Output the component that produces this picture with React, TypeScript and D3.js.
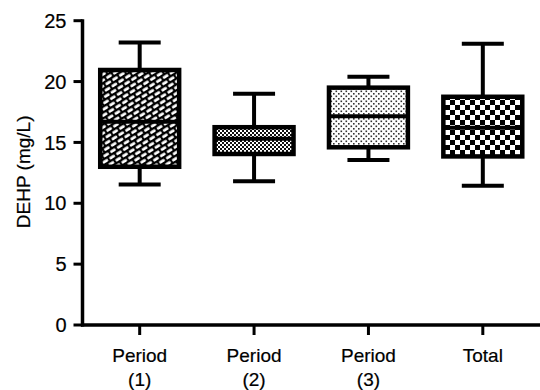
import React, { useEffect, useRef } from "react";
import * as d3 from "d3";

const categories = ["Period\n(1)", "Period\n(2)", "Period\n(3)", "Total"];
const whiskerLow = [11.55, 11.8, 13.55, 11.45];
const q1 = [13.0, 14.05, 14.6, 13.85];
const median = [16.7, 15.3, 17.15, 16.2];
const q3 = [20.95, 16.25, 19.5, 18.75];
const whiskerHigh = [23.2, 19.0, 20.4, 23.1];
const patterns = ["brick", "fineCheck", "dots", "bigCheck"];
const yTicks = [0, 5, 10, 15, 20, 25];

const App = () => {
  const svgRef = useRef<SVGSVGElement>(null);

  useEffect(() => {
    document.body.style.margin = "0";
    const svg = d3.select(svgRef.current);
    svg.selectAll("*").remove();

    const width = 540;
    const left = 82.5;
    const font = "'Liberation Sans', Arial, Helvetica, sans-serif";

    const defs = svg.append("defs");

    // diagonal brick hatch, offset rows
    const brick = defs
      .append("pattern")
      .attr("id", "brick")
      .attr("patternUnits", "userSpaceOnUse")
      .attr("width", 8)
      .attr("height", 10)
      .attr("patternTransform", "rotate(-32)");
    brick.append("rect").attr("width", 8).attr("height", 10).attr("fill", "#000");
    [
      [0.8, 1.2],
      [4.8, 6.2],
      [-3.2, 6.2],
    ].forEach(([bx, by]) => {
      brick
        .append("rect")
        .attr("x", bx)
        .attr("y", by)
        .attr("width", 6.2)
        .attr("height", 2.9)
        .attr("rx", 1.3)
        .attr("fill", "#fff");
    });

    const fine = defs
      .append("pattern")
      .attr("id", "fineCheck")
      .attr("patternUnits", "userSpaceOnUse")
      .attr("width", 4)
      .attr("height", 4);
    fine.append("rect").attr("width", 4).attr("height", 4).attr("fill", "#fff");
    fine.append("rect").attr("width", 2).attr("height", 2).attr("fill", "#111");
    fine.append("rect").attr("x", 2).attr("y", 2).attr("width", 2).attr("height", 2).attr("fill", "#111");

    const dots = defs
      .append("pattern")
      .attr("id", "dots")
      .attr("patternUnits", "userSpaceOnUse")
      .attr("width", 5)
      .attr("height", 5);
    dots.append("rect").attr("width", 5).attr("height", 5).attr("fill", "#fff");
    dots.append("rect").attr("x", 0.5).attr("y", 0.5).attr("width", 1.6).attr("height", 1.6).attr("fill", "#333");
    dots.append("rect").attr("x", 3).attr("y", 3).attr("width", 1.6).attr("height", 1.6).attr("fill", "#333");

    const big = defs
      .append("pattern")
      .attr("id", "bigCheck")
      .attr("patternUnits", "userSpaceOnUse")
      .attr("width", 10)
      .attr("height", 10);
    big.append("rect").attr("width", 10).attr("height", 10).attr("fill", "#fff");
    big.append("rect").attr("width", 5).attr("height", 5).attr("fill", "#000");
    big.append("rect").attr("x", 5).attr("y", 5).attr("width", 5).attr("height", 5).attr("fill", "#000");

    const x = d3
      .scaleBand()
      .domain(categories)
      .range([left, 540])
      .paddingInner(0.31)
      .paddingOuter(0.155);

    const y = d3.scaleLinear().domain([0, 25]).range([325, 20.7]);

    const textStyle = (sel: any, size: number) =>
      sel
        .style("font-family", font)
        .style("font-size", `${size}px`)
        .attr("fill", "#000")
        .attr("stroke", "#000")
        .attr("stroke-width", 0.2);

    // y axis
    svg
      .append("line")
      .attr("x1", left)
      .attr("x2", left)
      .attr("y1", y(25) - 1.5)
      .attr("y2", y(0) + 1.5)
      .attr("stroke", "#000")
      .attr("stroke-width", 3.5);

    const yt = svg.append("g").selectAll("g").data(yTicks).enter().append("g");
    yt.append("line")
      .attr("x1", left - 9)
      .attr("x2", left)
      .attr("y1", (d) => y(d))
      .attr("y2", (d) => y(d))
      .attr("stroke", "#000")
      .attr("stroke-width", 3);
    textStyle(
      yt.append("text")
        .attr("x", left - 16)
        .attr("y", (d) => y(d))
        .attr("dy", "0.36em")
        .attr("text-anchor", "end"),
      20
    ).text((d: number) => d);

    textStyle(
      svg
        .append("text")
        .attr("transform", `translate(30,${y(12.5) - 1}) rotate(-90)`)
        .attr("text-anchor", "middle"),
      19
    ).text("DEHP (mg/L)");

    // x axis
    svg
      .append("line")
      .attr("x1", left - 1.5)
      .attr("x2", width)
      .attr("y1", y(0))
      .attr("y2", y(0))
      .attr("stroke", "#000")
      .attr("stroke-width", 3.5);

    const xt = svg.append("g").selectAll("g").data(categories).enter().append("g")
      .attr("transform", (d) => `translate(${x(d)! + x.bandwidth() / 2},0)`);
    xt.append("line")
      .attr("y1", y(0))
      .attr("y2", y(0) + 10)
      .attr("stroke", "#000")
      .attr("stroke-width", 3);
    xt.each(function (d) {
      const lines = d.split("\n");
      const t = textStyle(d3.select(this).append("text").attr("text-anchor", "middle"), 19);
      lines.forEach((ln, i) => {
        t.append("tspan").attr("x", 0).attr("y", 362 + i * 23.5).text(ln);
      });
    });

    // boxes
    const g = svg.append("g");
    categories.forEach((c, i) => {
      const cx = x(c)! + x.bandwidth() / 2;
      const bw = x.bandwidth();
      const cap = 42;
      g.append("line")
        .attr("x1", cx)
        .attr("x2", cx)
        .attr("y1", y(whiskerHigh[i]))
        .attr("y2", y(whiskerLow[i]))
        .attr("stroke", "#000")
        .attr("stroke-width", 4);
      [whiskerHigh[i], whiskerLow[i]].forEach((v) => {
        g.append("line")
          .attr("x1", cx - cap / 2)
          .attr("x2", cx + cap / 2)
          .attr("y1", y(v))
          .attr("y2", y(v))
          .attr("stroke", "#000")
          .attr("stroke-width", 4);
      });
      g.append("rect")
        .attr("x", cx - bw / 2)
        .attr("width", bw)
        .attr("y", y(q3[i]))
        .attr("height", y(q1[i]) - y(q3[i]))
        .attr("fill", `url(#${patterns[i]})`)
        .attr("stroke", "#000")
        .attr("stroke-width", 4.5);
      g.append("line")
        .attr("x1", cx - bw / 2)
        .attr("x2", cx + bw / 2)
        .attr("y1", y(median[i]))
        .attr("y2", y(median[i]))
        .attr("stroke", "#000")
        .attr("stroke-width", 4);
    });
  }, []);

  return <svg ref={svgRef} width={540} height={390} style={{ display: "block", background: "#fff" }} />;
};

export default App;
